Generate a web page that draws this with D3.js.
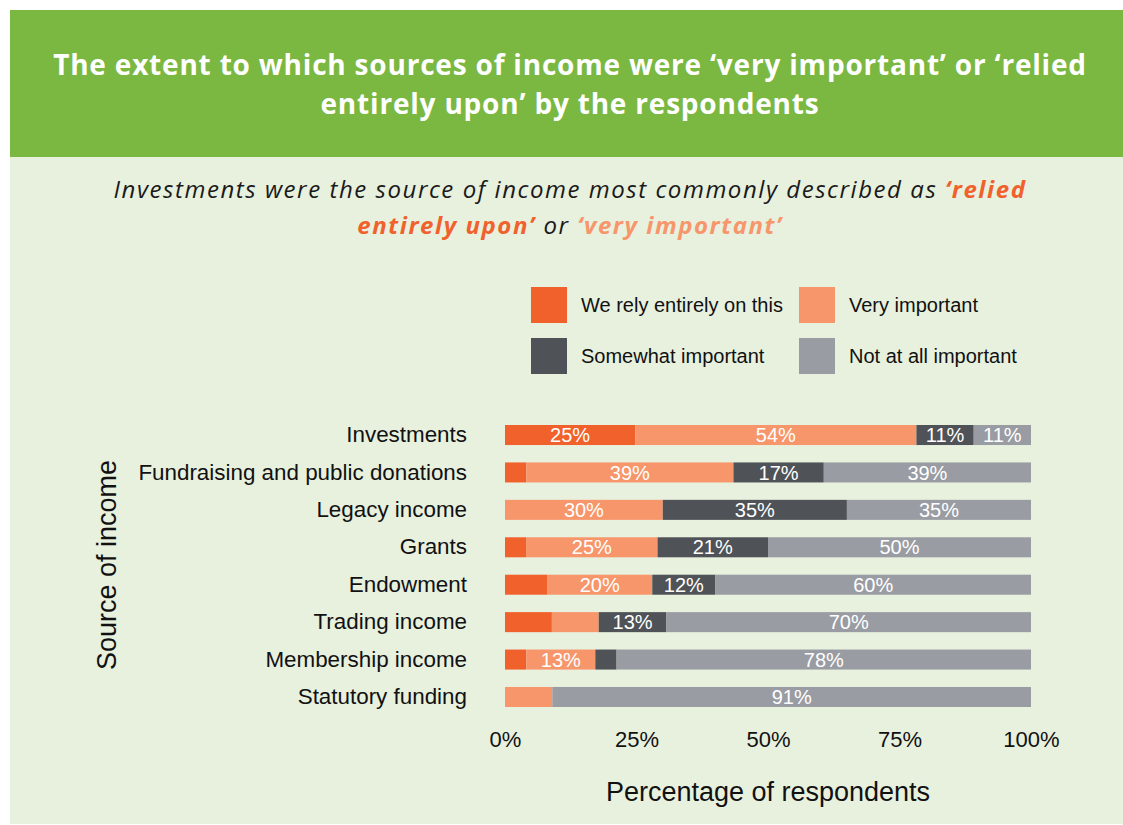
<!DOCTYPE html>
<html>
<head>
<meta charset="utf-8">
<script src="https://cdn.jsdelivr.net/npm/d3@7"></script>
<style>
  html, body { margin: 0; padding: 0; background: #ffffff; }
  svg { display: block; }
</style>
</head>
<body>
<svg id="chart" width="1123" height="825"></svg>
<script>
// Income sources, top to bottom
const categories = [
  "Investments",
  "Fundraising and public donations",
  "Legacy income",
  "Grants",
  "Endowment",
  "Trading income",
  "Membership income",
  "Statutory funding"
];

// Share of respondents (%) per response level
const reliedEntirely    = [25, 4, 0, 4, 8, 9, 4, 0];
const veryImportant     = [54, 39, 30, 25, 20, 9, 13, 9];
const somewhatImportant = [11, 17, 35, 21, 12, 13, 4, 0];
const notImportant      = [11, 39, 35, 50, 60, 70, 78, 91];

const seriesNames = ["We rely entirely on this", "Very important", "Somewhat important", "Not at all important"];
const seriesColors = ["#f1612b", "#f7966b", "#4f5257", "#999ca2"];
const tickLabels = ["0%", "25%", "50%", "75%", "100%"];
const tickValues = [0, 0.25, 0.5, 0.75, 1];

const sans = "'Liberation Sans', Arial, sans-serif";
const svg = d3.select("#chart");

// panel background
svg.append("rect").attr("x", 10).attr("y", 10).attr("width", 1113).attr("height", 814).attr("fill", "#e8f0de");
// header band
svg.append("rect").attr("x", 10).attr("y", 10).attr("width", 1113).attr("height", 147).attr("fill", "#7ab841");

const title = svg.append("text")
  .attr("text-anchor", "middle")
  .attr("font-family", "'Open Sans', sans-serif")
  .attr("font-weight", 700)
  .attr("font-size", 28)
  .attr("letter-spacing", 0.8)
  .attr("fill", "#ffffff");
title.append("tspan").attr("x", 570).attr("y", 75).text("The extent to which sources of income were \u2018very important\u2019 or \u2018relied");
title.append("tspan").attr("x", 570).attr("y", 114).text("entirely upon\u2019 by the respondents");

// subtitle
const sub = svg.append("text")
  .attr("text-anchor", "middle")
  .attr("font-family", "'Open Sans', sans-serif")
  .attr("font-style", "italic")
  .attr("font-size", 24)
  .attr("letter-spacing", 1.55)
  .attr("fill", "#1a1a1a");
const l1 = sub.append("tspan").attr("x", 570).attr("y", 198);
l1.append("tspan").text("Investments were the source of income most commonly described as ");
l1.append("tspan").attr("font-weight", 700).attr("fill", seriesColors[0]).text("\u2018relied");
const l2 = sub.append("tspan").attr("x", 570).attr("y", 234);
l2.append("tspan").attr("font-weight", 700).attr("fill", seriesColors[0]).text("entirely upon\u2019");
l2.append("tspan").text(" or ");
l2.append("tspan").attr("font-weight", 700).attr("fill", seriesColors[1]).text("\u2018very important\u2019");

// legend
const legendPos = [[531, 287], [799, 287], [531, 338], [799, 338]];
const legend = svg.append("g").attr("font-family", sans).attr("font-size", 20);
seriesNames.forEach((name, i) => {
  const [lx, ly] = legendPos[i];
  legend.append("rect").attr("x", lx).attr("y", ly).attr("width", 36).attr("height", 36).attr("fill", seriesColors[i]);
  legend.append("text").attr("x", lx + 50).attr("y", ly + 18).attr("dy", "0.35em").attr("fill", "#111").text(name);
});

// scales
const x = d3.scaleLinear().domain([0, 1]).range([505, 1031]);
const y = d3.scaleBand().domain(categories).range([416.3, 715.7]).paddingInner(0.465).paddingOuter(0.2325);

const rows = categories.map((c, i) => ({
  category: c,
  s0: reliedEntirely[i], s1: veryImportant[i], s2: somewhatImportant[i], s3: notImportant[i]
}));
const stack = d3.stack().keys(["s0", "s1", "s2", "s3"]).offset(d3.stackOffsetExpand);
const layers = stack(rows);

const bars = svg.append("g");
layers.forEach((layer, li) => {
  const g = bars.append("g").attr("fill", seriesColors[li]);
  g.selectAll("rect").data(layer).join("rect")
    .attr("x", d => x(d[0]))
    .attr("y", d => y(d.data.category))
    .attr("width", d => x(d[1]) - x(d[0]))
    .attr("height", y.bandwidth());
  g.selectAll("text").data(layer.filter(d => d.data[layer.key] >= 10)).join("text")
    .attr("x", d => (x(d[0]) + x(d[1])) / 2)
    .attr("y", d => y(d.data.category) + y.bandwidth() / 2)
    .attr("dy", "0.36em")
    .attr("text-anchor", "middle")
    .attr("font-family", sans)
    .attr("font-size", 20)
    .attr("fill", "#ffffff")
    .text(d => d.data[layer.key] + "%");
});

// y axis labels
const yAxis = d3.axisLeft(y).tickSize(0).tickPadding(0);
const yg = svg.append("g").attr("transform", "translate(467,0)").call(yAxis);
yg.select(".domain").remove();
yg.selectAll("text").attr("font-family", sans).attr("font-size", 22.4).attr("fill", "#111");

// x axis labels
const xAxis = d3.axisBottom(x).tickValues(tickValues).tickFormat((d, i) => tickLabels[i]).tickSize(0).tickPadding(0);
const xg = svg.append("g").attr("transform", "translate(0,731)").call(xAxis);
xg.select(".domain").remove();
xg.selectAll("text").attr("font-family", sans).attr("font-size", 22).attr("fill", "#111");

// axis titles
svg.append("text").attr("x", 768).attr("y", 801).attr("text-anchor", "middle")
  .attr("font-family", sans).attr("font-size", 27).attr("fill", "#111")
  .text("Percentage of respondents");
svg.append("text").attr("transform", "translate(116,565) rotate(-90)").attr("text-anchor", "middle")
  .attr("font-family", sans).attr("font-size", 27).attr("fill", "#111")
  .text("Source of income");
</script>
</body>
</html>
